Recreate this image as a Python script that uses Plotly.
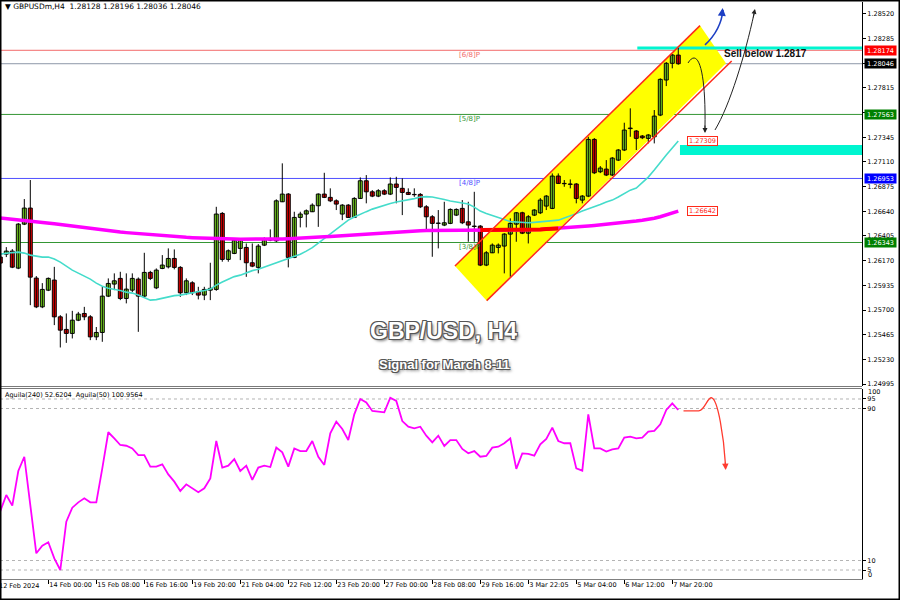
import plotly.graph_objects as go

W, H = 900, 600
PLOT_R = 862
FONT = "Tahoma, 'DejaVu Sans', sans-serif"

# ---------------- data (H4 candles, index 0..113) ----------------
opens = [1.26204, 1.26232, 1.26261, 1.26099, 1.26518, 1.26671, 1.26004, 1.25730, 1.25889, 1.25985,
         1.25635, 1.25515, 1.25477, 1.25603, 1.25667, 1.25635, 1.25444, 1.25486, 1.25832, 1.25947,
         1.26001, 1.25810, 1.25889, 1.25994, 1.25832, 1.26058, 1.25911, 1.26096, 1.26111, 1.26191,
         1.26106, 1.25864, 1.25959, 1.25873, 1.25842, 1.25889, 1.25896, 1.26620, 1.26182, 1.26239,
         1.26287, 1.26296, 1.26150, 1.26106, 1.26318, 1.26366, 1.26359, 1.26731, 1.26804, 1.26201,
         1.26582, 1.26614, 1.26636, 1.26693, 1.26804, 1.26773, 1.26740, 1.26614, 1.26699, 1.26582,
         1.26763, 1.26931, 1.26826, 1.26785, 1.26836, 1.26804, 1.26900, 1.26859, 1.26820, 1.26801,
         1.26801, 1.26683, 1.26588, 1.26525, 1.26509, 1.26525, 1.26604, 1.26668, 1.26540, 1.26499,
         1.26499, 1.26128, 1.26245, 1.26296, 1.26309, 1.26423, 1.26518, 1.26626, 1.26432, 1.26604,
         1.26626, 1.26690, 1.26668, 1.26976, 1.26906, 1.26900, 1.26900, 1.26747, 1.26785, 1.27325,
         1.27017, 1.27042, 1.26986, 1.27128, 1.27224, 1.27428, 1.27405, 1.27357, 1.27335, 1.27350,
         1.27557, 1.27891, 1.28050, 1.28128]
highs = [1.26223, 1.26299, 1.26280, 1.26528, 1.26757, 1.26938, 1.26023, 1.25956, 1.26010, 1.26111,
         1.25651, 1.25667, 1.25692, 1.25682, 1.25730, 1.25651, 1.25538, 1.25921, 1.26001, 1.26049,
         1.26064, 1.26049, 1.26049, 1.26010, 1.26245, 1.26073, 1.26096, 1.26223, 1.26287, 1.26277,
         1.26118, 1.26001, 1.25974, 1.25921, 1.25921, 1.26150, 1.26683, 1.26633, 1.26277, 1.26372,
         1.26385, 1.26334, 1.26334, 1.26328, 1.26392, 1.26468, 1.26754, 1.27097, 1.26814, 1.26636,
         1.26636, 1.26658, 1.26716, 1.26811, 1.27007, 1.26859, 1.26754, 1.26709, 1.26709, 1.26775,
         1.26963, 1.26985, 1.26842, 1.26851, 1.26851, 1.26963, 1.26969, 1.26954, 1.26859, 1.26859,
         1.26814, 1.26699, 1.26604, 1.26652, 1.26731, 1.26668, 1.26668, 1.26747, 1.26731, 1.26826,
         1.26509, 1.26261, 1.26334, 1.26334, 1.26432, 1.26573, 1.26633, 1.26636, 1.26604, 1.26661,
         1.26766, 1.26795, 1.27001, 1.27001, 1.26938, 1.26944, 1.26909, 1.26795, 1.27350, 1.27338,
         1.27071, 1.27128, 1.27157, 1.27233, 1.27484, 1.27621, 1.27414, 1.27367, 1.27376, 1.27605,
         1.27907, 1.28062, 1.28138, 1.28196]
lows = [1.26118, 1.26204, 1.26099, 1.26089, 1.26509, 1.25746, 1.25718, 1.25718, 1.25880, 1.25556,
        1.25343, 1.25387, 1.25429, 1.25594, 1.25603, 1.25413, 1.25413, 1.25397, 1.25823, 1.25889,
        1.25794, 1.25763, 1.25870, 1.25492, 1.25823, 1.25985, 1.25899, 1.26089, 1.26096, 1.26087,
        1.25825, 1.25842, 1.25842, 1.25801, 1.25794, 1.25794, 1.25883, 1.26160, 1.26160, 1.26232,
        1.26175, 1.26016, 1.26108, 1.26049, 1.26309, 1.26356, 1.26347, 1.26728, 1.26106, 1.26194,
        1.26487, 1.26487, 1.26633, 1.26492, 1.26766, 1.26728, 1.26652, 1.26556, 1.26576, 1.26576,
        1.26757, 1.26716, 1.26775, 1.26775, 1.26795, 1.26795, 1.26716, 1.26604, 1.26795, 1.26778,
        1.26671, 1.26454, 1.26207, 1.26287, 1.26499, 1.26518, 1.26595, 1.26518, 1.26350, 1.26350,
        1.26118, 1.26118, 1.26242, 1.26239, 1.26049, 1.26016, 1.26350, 1.26423, 1.26334, 1.26595,
        1.26614, 1.26652, 1.26661, 1.26900, 1.26874, 1.26859, 1.26716, 1.26716, 1.26775, 1.26995,
        1.27004, 1.26976, 1.26976, 1.27119, 1.27214, 1.27350, 1.27224, 1.27328, 1.27287, 1.27287,
        1.27547, 1.27833, 1.28002, 1.28036]
closes = [1.26147, 1.26261, 1.26108, 1.26518, 1.26671, 1.26013, 1.25730, 1.25896, 1.26001, 1.25635,
          1.25508, 1.25477, 1.25603, 1.25661, 1.25635, 1.25444, 1.25486, 1.25832, 1.25953, 1.25978,
          1.25810, 1.25899, 1.26001, 1.25832, 1.26058, 1.26001, 1.26080, 1.26128, 1.26191, 1.26106,
          1.25864, 1.25978, 1.25864, 1.25842, 1.25896, 1.25906, 1.26614, 1.26182, 1.26264, 1.26366,
          1.26366, 1.26150, 1.26118, 1.26309, 1.26372, 1.26382, 1.26740, 1.26804, 1.26201, 1.26582,
          1.26614, 1.26645, 1.26699, 1.26804, 1.26773, 1.26740, 1.26709, 1.26699, 1.26582, 1.26763,
          1.26931, 1.26826, 1.26785, 1.26836, 1.26804, 1.26900, 1.26868, 1.26820, 1.26801, 1.26798,
          1.26683, 1.26588, 1.26525, 1.26528, 1.26531, 1.26658, 1.26658, 1.26531, 1.26509, 1.26496,
          1.26128, 1.26245, 1.26318, 1.26318, 1.26423, 1.26525, 1.26626, 1.26432, 1.26588, 1.26652,
          1.26747, 1.26785, 1.26976, 1.26906, 1.26903, 1.26897, 1.26763, 1.26785, 1.27325, 1.27007,
          1.27052, 1.26986, 1.27147, 1.27224, 1.27414, 1.27433, 1.27335, 1.27341, 1.27367, 1.27547,
          1.27897, 1.28050, 1.28129, 1.28046]

ma_fast = [1.26232, 1.26242, 1.26247, 1.26251, 1.26242, 1.26223, 1.26213, 1.26204, 1.26204, 1.26185,
           1.26156, 1.26118, 1.26080, 1.26051, 1.26023, 1.25994, 1.25956, 1.25927, 1.25908, 1.25899,
           1.25885, 1.25870, 1.25861, 1.25842, 1.25818, 1.25794, 1.25799, 1.25813, 1.25827, 1.25837,
           1.25842, 1.25851, 1.25861, 1.25873, 1.25885, 1.25899, 1.25937, 1.25966, 1.25994, 1.26018,
           1.26032, 1.26056, 1.26075, 1.26089, 1.26109, 1.26128, 1.26151, 1.26175, 1.26194, 1.26209,
           1.26232, 1.26261, 1.26294, 1.26337, 1.26380, 1.26423, 1.26471, 1.26514, 1.26556, 1.26585,
           1.26614, 1.26637, 1.26661, 1.26680, 1.26699, 1.26714, 1.26728, 1.26738, 1.26752, 1.26761,
           1.26776, 1.26780, 1.26776, 1.26766, 1.26752, 1.26738, 1.26728, 1.26718, 1.26709, 1.26680,
           1.26642, 1.26620, 1.26599, 1.26576, 1.26561, 1.26542, 1.26537, 1.26533, 1.26531, 1.26535,
           1.26540, 1.26542, 1.26547, 1.26556, 1.26576, 1.26595, 1.26618, 1.26642, 1.26661, 1.26683,
           1.26704, 1.26728, 1.26747, 1.26776, 1.26809, 1.26842, 1.26861, 1.26909, 1.26966, 1.27033,
           1.27109, 1.27176, 1.27243, 1.27309]
ma_slow = [1.26576, 1.26569, 1.26562, 1.26556, 1.26550, 1.26544, 1.26537, 1.26533, 1.26527, 1.26521,
           1.26515, 1.26507, 1.26499, 1.26491, 1.26483, 1.26475, 1.26469, 1.26462, 1.26455, 1.26449,
           1.26442, 1.26437, 1.26432, 1.26427, 1.26421, 1.26416, 1.26412, 1.26408, 1.26403, 1.26399,
           1.26394, 1.26392, 1.26389, 1.26386, 1.26383, 1.26380, 1.26379, 1.26378, 1.26377, 1.26376,
           1.26375, 1.26374, 1.26373, 1.26373, 1.26372, 1.26372, 1.26374, 1.26376, 1.26378, 1.26380,
           1.26382, 1.26385, 1.26389, 1.26393, 1.26397, 1.26401, 1.26405, 1.26409, 1.26413, 1.26416,
           1.26420, 1.26425, 1.26430, 1.26434, 1.26438, 1.26442, 1.26445, 1.26448, 1.26451, 1.26454,
           1.26456, 1.26457, 1.26458, 1.26459, 1.26460, 1.26461, 1.26461, 1.26461, 1.26461, 1.26461,
           1.26461, 1.26461, 1.26461, 1.26461, 1.26461, 1.26461, 1.26462, 1.26464, 1.26465, 1.26467,
           1.26468, 1.26471, 1.26474, 1.26476, 1.26480, 1.26485, 1.26490, 1.26495, 1.26499, 1.26504,
           1.26509, 1.26515, 1.26520, 1.26525, 1.26531, 1.26537, 1.26547, 1.26555, 1.26561, 1.26574,
           1.26588, 1.26606, 1.26623, 1.26642]
aguila = [36.0, 44.5, 38.9, 57.1, 64.6, 39.2, 13.8, 17.8, 19.6, 11.1,
          5.0, 30.4, 37.8, 40.6, 42.7, 40.6, 40.6, 58.5, 77.5, 74.3,
          70.8, 70.4, 69.0, 65.5, 65.5, 59.4, 59.4, 60.6, 55.3, 51.5,
          46.6, 50.1, 48.0, 45.9, 48.0, 53.2, 72.9, 58.9, 59.9, 63.4,
          57.1, 59.9, 52.4, 58.9, 59.9, 59.2, 69.4, 66.9, 59.4, 69.0,
          67.6, 67.6, 72.9, 64.6, 60.3, 76.9, 83.1, 79.2, 73.4, 86.9,
          95.0, 93.2, 88.7, 88.3, 88.0, 95.7, 94.0, 83.4, 80.4, 79.6,
          80.4, 75.7, 72.2, 75.7, 70.3, 73.4, 73.4, 68.7, 66.4, 67.6,
          64.6, 65.0, 69.4, 69.9, 71.7, 74.3, 58.2, 66.4, 66.1, 65.2,
          71.1, 74.0, 79.9, 72.9, 71.7, 71.7, 58.5, 57.3, 86.9, 69.0,
          69.0, 67.3, 68.5, 69.0, 74.7, 75.2, 74.3, 74.7, 77.8, 78.2,
          81.7, 89.2, 92.7, 89.2]
bar_idx = list(range(len(closes)))
red_ma_from, red_ma_to = 80, 94

tick_idx = [8, 16, 24, 32, 40, 48, 56, 64, 72, 80, 88, 96, 104, 112]
tick_text = ["14 Feb 00:00", "15 Feb 08:00", "16 Feb 16:00", "19 Feb 20:00", "21 Feb 04:00",
             "22 Feb 12:00", "23 Feb 20:00", "27 Feb 00:00", "28 Feb 08:00", "29 Feb 16:00",
             "3 Mar 22:05", "5 Mar 04:00", "6 Mar 12:00", "7 Mar 20:00"]
first_date_label = "12 Feb 2024"
price_ticks = [1.28520, 1.28285, 1.28050, 1.27815, 1.27580, 1.27345, 1.27110, 1.26875,
               1.26640, 1.26405, 1.26170, 1.25935, 1.25700, 1.25465, 1.25230, 1.24995]
osc_ticks = [95, 90, 10, 5]
osc_levels = [95, 90, 10, 5]

level_names = ["[6/8]P", "[5/8]P", "[4/8]P", "[3/8]P"]
level_values = [1.28174, 1.27563, 1.26953, 1.26343]
level_colors = ["#f26a6a", "#349634", "#5050ff", "#349634"]
level_box_colors = ["#ff0000", "#008000", "#0000ff", "#008000"]

# ---------------- helpers ----------------
def PX(x):
    return x / W

def PY(y):
    return 1 - y / H

fig = go.Figure()

# wicks
wx, wy = [], []
for i, h, l in zip(bar_idx, highs, lows):
    wx += [i, i, None]
    wy += [l, h, None]
fig.add_trace(go.Scatter(x=wx, y=wy, mode="lines", line=dict(color="#000000", width=1),
                         hoverinfo="skip", showlegend=False))
# bodies
base = [min(o, c) for o, c in zip(opens, closes)]
height = [max(abs(c - o), 0.000012) for o, c in zip(opens, closes)]
cols = ["#7ddc24" if c >= o else "#f20000" for o, c in zip(opens, closes)]
fig.add_trace(go.Bar(x=bar_idx, y=height, base=base, width=0.66,
                     marker=dict(color=cols, line=dict(color="#000000", width=1)),
                     hoverinfo="skip", showlegend=False))
# moving averages
fig.add_trace(go.Scatter(x=bar_idx, y=ma_fast, mode="lines", line=dict(color="#45dccb", width=1.6),
                         hoverinfo="skip", showlegend=False))
fig.add_trace(go.Scatter(x=bar_idx, y=ma_slow, mode="lines", line=dict(color="#ff00ff", width=3.5),
                         hoverinfo="skip", showlegend=False))
fig.add_trace(go.Scatter(x=bar_idx[red_ma_from:red_ma_to], y=ma_slow[red_ma_from:red_ma_to], mode="lines",
                         line=dict(color="#ff0000", width=4), hoverinfo="skip", showlegend=False))
# oscillator
fig.add_trace(go.Scatter(x=bar_idx, y=aguila, mode="lines", line=dict(color="#ff00ff", width=1.8),
                         xaxis="x2", yaxis="y2", hoverinfo="skip", showlegend=False))

shapes = []
ann = []

# yellow channel (drawing object, data coords)
ch_up = [(75.78, 1.26119), (116.62, 1.28409)]
ch_lo = [(81.07, 1.25789), (121.9, 1.28072)]
ch_lo_fill_end = (120.95, 1.28050)
shapes.append(dict(type="path", xref="x", yref="y", layer="below",
                   path=f"M {ch_up[0][0]},{ch_up[0][1]} L {ch_up[1][0]},{ch_up[1][1]} "
                        f"L {ch_lo_fill_end[0]},{ch_lo_fill_end[1]} L {ch_lo[0][0]},{ch_lo[0][1]} Z",
                   fillcolor="#ffff00", line=dict(width=0)))

# horizontal levels
for name, v, c in zip(level_names, level_values, level_colors):
    shapes.append(dict(type="line", xref="paper", yref="y", x0=0, x1=PX(PLOT_R), y0=v, y1=v,
                       line=dict(color=c, width=1), layer="below"))
    ann.append(dict(x=PX(457), xref="paper", y=v, yref="y", yshift=-5, text=name, showarrow=False,
                    xanchor="left", yanchor="middle", font=dict(family=FONT, size=7, color=c)))
# bid line
shapes.append(dict(type="line", xref="paper", yref="y", x0=0, x1=PX(PLOT_R), y0=closes[-1], y1=closes[-1],
                   line=dict(color="#8e98a8", width=1), layer="below"))

# cyan zones
shapes.append(dict(type="rect", xref="x", yref="y", x0=106.17, x1=143.62, y0=1.28182, y1=1.28210,
                   fillcolor="#00f5d0", line=dict(width=0), layer="below"))
shapes.append(dict(type="rect", xref="x", yref="y", x0=113.28, x1=143.62, y0=1.27177, y1=1.27272,
                   fillcolor="#00f5d0", line=dict(width=0), layer="below"))

# red channel borders
for seg in (ch_up, ch_lo):
    shapes.append(dict(type="line", xref="x", yref="y", x0=seg[0][0], y0=seg[0][1], x1=seg[1][0], y1=seg[1][1],
                       line=dict(color="#ff2a1a", width=1.5)))

# arrows (drawing objects)
shapes.append(dict(type="path", xref="x", yref="y",
                   path="M 117.45,1.28225 Q 120.12,1.28368 120.45,1.28558",
                   line=dict(color="#1d3fc4", width=1.6)))
ann.append(dict(x=120.4, y=1.28577, xref="x", yref="y", ax=-1, ay=9, text="", showarrow=True,
                arrowhead=2, arrowsize=1, arrowwidth=1.6, arrowcolor="#1d3fc4"))
shapes.append(dict(type="path", xref="x", yref="y",
                   path="M 114.62,1.28053 C 116.28,1.28206 117.62,1.27987 117.45,1.27434",
                   line=dict(color="#222222", width=1)))
ann.append(dict(x=117.45, y=1.27386, xref="x", yref="y", ax=0, ay=-9, text="", showarrow=True,
                arrowhead=2, arrowsize=1, arrowwidth=1, arrowcolor="#222222"))
shapes.append(dict(type="path", xref="x", yref="y",
                   path="M 119.12,1.27415 C 121.62,1.27653 124.12,1.28129 125.62,1.28520",
                   line=dict(color="#222222", width=1)))
ann.append(dict(x=125.78, y=1.28568, xref="x", yref="y", ax=-2, ay=10, text="", showarrow=True,
                arrowhead=2, arrowsize=1, arrowwidth=1, arrowcolor="#222222"))
# oscillator arrow
shapes.append(dict(type="path", xref="x2", yref="y2",
                   path="M 113.87,88.8 L 116.4,88.8 C 117.4,88.8 117.9,96.5 118.6,95.6 C 119.6,94.5 120.6,75 120.85,61",
                   line=dict(color="#ff3b2f", width=1.3)))
ann.append(dict(x=120.9, y=57.6, xref="x2", yref="y2", ax=-0.5, ay=-9, text="", showarrow=True,
                arrowhead=2, arrowsize=1, arrowwidth=1.3, arrowcolor="#ff3b2f"))

# oscillator levels
for lv in osc_levels:
    shapes.append(dict(type="line", xref="paper", yref="y2", x0=0, x1=PX(PLOT_R), y0=lv, y1=lv,
                       line=dict(color="#b4b4b4", width=1, dash="dot"), layer="below"))

# panel separators and frame
for yy in (386.5, 388.5):
    shapes.append(dict(type="line", xref="paper", yref="paper", x0=0, x1=PX(PLOT_R), y0=PY(yy), y1=PY(yy),
                       line=dict(color="#7a7a7a", width=1)))
shapes.append(dict(type="rect", xref="paper", yref="paper", x0=0, x1=1, y0=0, y1=1,
                   line=dict(color="#000000", width=3)))

# right axis value boxes
for v, bc in zip(level_values, level_box_colors):
    ann.append(dict(x=PX(864), xref="paper", y=v, yref="y", text=f"{v:.5f}", showarrow=False,
                    xanchor="left", yanchor="middle", bgcolor=bc, width=31, height=9, borderpad=0,
                    font=dict(family=FONT, size=6.5, color="#ffffff")))
ann.append(dict(x=PX(864), xref="paper", y=closes[-1], yref="y", text=f"{closes[-1]:.5f}", showarrow=False,
                xanchor="left", yanchor="middle", bgcolor="#000000", width=31, height=9, borderpad=0,
                font=dict(family=FONT, size=6.5, color="#ffffff")))
# MA value labels
for v in (ma_fast[-1], ma_slow[-1]):
    ann.append(dict(x=114.45, xref="x", y=v, yref="y", text=f"{v:.5f}", showarrow=False,
                    xanchor="left", yanchor="middle", bgcolor="#ffffff", bordercolor="#ff2a1a",
                    borderwidth=1, borderpad=0, width=29, height=8,
                    font=dict(family=FONT, size=6.5, color="#ff2a1a")))

# oscillator 100 / 0 labels
ann.append(dict(x=PX(866), xref="paper", y=PY(392), yref="paper", text="100", showarrow=False,
                xanchor="left", yanchor="middle", font=dict(family=FONT, size=6.5, color="#000")))
ann.append(dict(x=PX(866), xref="paper", y=PY(575), yref="paper", text="0", showarrow=False,
                xanchor="left", yanchor="middle", font=dict(family=FONT, size=6.5, color="#000")))
# first date label (cut at left edge)
ann.append(dict(x=PX(-3), xref="paper", y=PY(586), yref="paper", text=first_date_label, showarrow=False,
                xanchor="left", yanchor="middle", font=dict(family=FONT, size=6.5, color="#000")))

# texts
ann.append(dict(x=PX(3), xref="paper", y=PY(6), yref="paper",
                text="▼ GBPUSDm,H4  1.28128 1.28196 1.28036 1.28046", showarrow=False,
                xanchor="left", yanchor="middle", font=dict(family=FONT, size=7.5, color="#000")))
ann.append(dict(x=PX(3), xref="paper", y=PY(395), yref="paper",
                text="Aguila(240) 52.6204  Aguila(50) 100.9564", showarrow=False,
                xanchor="left", yanchor="middle", font=dict(family=FONT, size=6.5, color="#000")))
ann.append(dict(x=PX(722), xref="paper", y=PY(53), yref="paper", text="<b>Sell below 1.2817</b>",
                showarrow=False, xanchor="left", yanchor="middle",
                font=dict(family="Liberation Sans, Arial, sans-serif", size=10, color="#111")))
outline = "-1px -1px 0 #555, 1px -1px 0 #555, -1px 1px 0 #555, 1px 1px 0 #555, 2px 2px 3px #777"
ann.append(dict(x=PX(443), xref="paper", y=PY(331), yref="paper", text="<b>GBP/USD, H4</b>",
                showarrow=False, xanchor="center", yanchor="middle",
                font=dict(family="Liberation Sans, Arial, sans-serif", size=23, color="#ffffff", shadow=outline)))
ann.append(dict(x=PX(444), xref="paper", y=PY(365), yref="paper", text="<b>Signal for March 8-11</b>",
                showarrow=False, xanchor="center", yanchor="middle",
                font=dict(family="Liberation Sans, Arial, sans-serif", size=13, color="#ffffff", shadow=outline)))

XR = [-0.05, 143.62]
fig.update_layout(
    width=W, height=H, margin=dict(l=0, r=0, t=0, b=0, autoexpand=False),
    paper_bgcolor="#ffffff", plot_bgcolor="#ffffff",
    showlegend=False, hovermode=False, barmode="overlay",
    font=dict(family=FONT, size=6.5, color="#000"),
    xaxis=dict(domain=[0, PX(PLOT_R)], range=XR, anchor="y", showgrid=False, zeroline=False,
               showticklabels=False, showline=False, ticks="", automargin=False),
    yaxis=dict(domain=[PY(386), PY(2)], range=[1.24976, 1.28634], side="right", anchor="x",
               showgrid=False, zeroline=False, showline=True, linecolor="#000", linewidth=1,
               ticks="outside", ticklen=3, tickcolor="#000", automargin=False,
               tickvals=price_ticks, ticktext=[f"{v:.5f}" for v in price_ticks],
               tickfont=dict(family=FONT, size=6.5, color="#000")),
    xaxis2=dict(domain=[0, PX(PLOT_R)], range=XR, anchor="y2", showgrid=False, zeroline=False,
                showline=True, linecolor="#808080", linewidth=1, automargin=False, tickangle=0,
                ticks="outside", ticklen=4, tickcolor="#000",
                tickvals=tick_idx, ticktext=tick_text, ticklabelposition="outside right",
                tickfont=dict(family=FONT, size=6.5, color="#000")),
    yaxis2=dict(domain=[PY(578.5), PY(389)], range=[0.53, 100.26], side="right", anchor="x2",
                showgrid=False, zeroline=False, showline=True, linecolor="#000", linewidth=1,
                ticks="outside", ticklen=3, tickcolor="#000", automargin=False,
                tickvals=osc_ticks, ticktext=[str(t) for t in osc_ticks],
                tickfont=dict(family=FONT, size=6.5, color="#000")),
    shapes=shapes, annotations=ann,
)

fig.write_html("out.html", config={"displayModeBar": False},
               post_script="document.body.style.margin='0px';")
